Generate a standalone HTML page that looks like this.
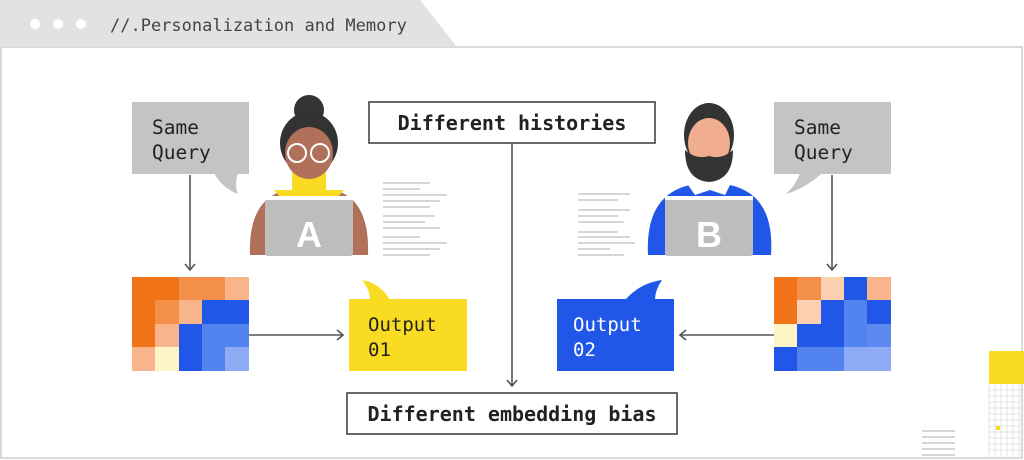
<!DOCTYPE html>
<html><head><style>
html,body{margin:0;padding:0;background:#fff;}
svg{display:block;}
text{font-family:"DejaVu Sans Mono","Liberation Mono",monospace;}
</style></head><body>
<svg width="1024" height="460" viewBox="0 0 1024 460" xmlns="http://www.w3.org/2000/svg">
<rect width="1024" height="460" fill="#fff"/>
<rect x="1" y="47" width="1021" height="411" fill="#fff" stroke="#d9d9d9" stroke-width="2"/>
<polygon points="0,0 420,0 457,47 0,47" fill="#e2e2e2"/>
<circle cx="35" cy="24" r="5" fill="#fff"/><circle cx="58" cy="24" r="5" fill="#fff"/><circle cx="81" cy="24" r="5" fill="#fff"/>
<text x="110" y="31" font-size="17" fill="#444">//.Personalization and Memory</text>

<!-- query A -->
<rect x="132" y="102" width="117" height="72" fill="#c4c4c4"/>
<path d="M214 173 L238 173 Q234 185 238 194 Q222 188 214 173Z" fill="#c4c4c4"/>
<text x="152" y="134" font-size="19.5" fill="#222">Same</text>
<text x="152" y="159" font-size="19.5" fill="#222">Query</text>
<!-- query B -->
<rect x="774" y="102" width="117" height="72" fill="#c4c4c4"/>
<path d="M800 173 L822 173 Q806 188 786 194 Q796 185 800 173Z" fill="#c4c4c4"/>
<text x="794" y="134" font-size="19.5" fill="#222">Same</text>
<text x="794" y="159" font-size="19.5" fill="#222">Query</text>

<g stroke="#555" stroke-width="1.6" fill="none">
<line x1="190" y1="175" x2="190" y2="269"/><polyline points="185,264 190,270 195,264"/>
<line x1="832" y1="175" x2="832" y2="269"/><polyline points="827,264 832,270 837,264"/>
<line x1="249" y1="335" x2="342" y2="335"/><polyline points="337,330 343,335 337,340"/>
<line x1="774" y1="335" x2="681" y2="335"/><polyline points="686,330 680,335 686,340"/>
<line x1="512" y1="143" x2="512" y2="385"/><polyline points="507,380 512,386 517,380"/>
</g>

<!-- matrix A -->
<g>
<rect x="132" y="277" width="24" height="24" fill="#f07318"/><rect x="155" y="277" width="24" height="24" fill="#f07318"/><rect x="179" y="277" width="24" height="24" fill="#f48f4a"/><rect x="202" y="277" width="24" height="24" fill="#f48f4a"/><rect x="225" y="277" width="24" height="24" fill="#f8b48a"/>
<rect x="132" y="300" width="24" height="24" fill="#f07318"/><rect x="155" y="300" width="24" height="24" fill="#f48f4a"/><rect x="179" y="300" width="24" height="24" fill="#f8b48a"/><rect x="202" y="300" width="24" height="24" fill="#2057e8"/><rect x="225" y="300" width="24" height="24" fill="#2057e8"/>
<rect x="132" y="324" width="24" height="24" fill="#f07318"/><rect x="155" y="324" width="24" height="24" fill="#f8b48a"/><rect x="179" y="324" width="24" height="24" fill="#2057e8"/><rect x="202" y="324" width="24" height="24" fill="#5283ef"/><rect x="225" y="324" width="24" height="24" fill="#5283ef"/>
<rect x="132" y="347" width="24" height="24" fill="#f8b48a"/><rect x="155" y="347" width="24" height="24" fill="#fdf5c8"/><rect x="179" y="347" width="24" height="24" fill="#2057e8"/><rect x="202" y="347" width="24" height="24" fill="#5283ef"/><rect x="225" y="347" width="24" height="24" fill="#8eacf5"/>
</g>
<!-- matrix B -->
<g>
<rect x="774" y="277" width="24" height="24" fill="#f07318"/><rect x="797" y="277" width="24" height="24" fill="#f48f4a"/><rect x="821" y="277" width="24" height="24" fill="#fbcfb0"/><rect x="844" y="277" width="24" height="24" fill="#2057e8"/><rect x="867" y="277" width="24" height="24" fill="#f8b48a"/>
<rect x="774" y="300" width="24" height="24" fill="#f07318"/><rect x="797" y="300" width="24" height="24" fill="#fbcfb0"/><rect x="821" y="300" width="24" height="24" fill="#2057e8"/><rect x="844" y="300" width="24" height="24" fill="#5283ef"/><rect x="867" y="300" width="24" height="24" fill="#2057e8"/>
<rect x="774" y="324" width="24" height="24" fill="#fdf5c8"/><rect x="797" y="324" width="24" height="24" fill="#2057e8"/><rect x="821" y="324" width="24" height="24" fill="#2057e8"/><rect x="844" y="324" width="24" height="24" fill="#5283ef"/><rect x="867" y="324" width="24" height="24" fill="#5c8af0"/>
<rect x="774" y="347" width="24" height="24" fill="#2057e8"/><rect x="797" y="347" width="24" height="24" fill="#5283ef"/><rect x="821" y="347" width="24" height="24" fill="#5283ef"/><rect x="844" y="347" width="24" height="24" fill="#8eacf5"/><rect x="867" y="347" width="24" height="24" fill="#8eacf5"/>
</g>

<!-- outputs -->
<path d="M362 280 Q380 283 390 300 L370 300 Q370 290 362 280Z" fill="#f9dc22"/>
<rect x="349" y="299" width="118" height="72" fill="#f9dc22"/>
<text x="368" y="331" font-size="19" fill="#222">Output</text>
<text x="368" y="356" font-size="19" fill="#222">01</text>
<path d="M662 280 Q640 283 625 300 L655 300 Q655 290 662 280Z" fill="#2057e8"/>
<rect x="557" y="299" width="117" height="72" fill="#2057e8"/>
<text x="573" y="331" font-size="19" fill="#fff">Output</text>
<text x="573" y="356" font-size="19" fill="#fff">02</text>

<!-- labels -->
<rect x="369" y="102" width="286" height="41" fill="#fff" stroke="#444" stroke-width="1.6"/>
<text x="512" y="130" font-size="20" font-weight="bold" fill="#222" text-anchor="middle">Different histories</text>
<rect x="347" y="393" width="330" height="41" fill="#fff" stroke="#444" stroke-width="1.6"/>
<text x="512" y="421" font-size="20" font-weight="bold" fill="#222" text-anchor="middle">Different embedding bias</text>

<!-- person A -->
<path d="M250 255 Q248 200 285 190 L335 190 Q370 200 368 255Z" fill="#b0705a"/>
<path d="M274 190 L344 190 L334 202 L284 202Z" fill="#f9dc22"/>
<rect x="292" y="168" width="34" height="28" fill="#f9dc22"/>
<circle cx="309" cy="110" r="15" fill="#333"/>
<ellipse cx="309" cy="143" rx="29" ry="31" fill="#333"/>
<ellipse cx="309" cy="153" rx="24" ry="26" fill="#b0705a"/>
<circle cx="297" cy="153" r="9" fill="none" stroke="#fff" stroke-width="2"/>
<circle cx="320" cy="153" r="9" fill="none" stroke="#fff" stroke-width="2"/>
<rect x="265" y="196" width="88" height="60" rx="3" fill="#bdbdbd"/>
<rect x="265" y="196" width="88" height="4" fill="#fff"/>
<text x="309" y="247" font-size="36" font-weight="bold" fill="#fff" text-anchor="middle" style="font-family:'Liberation Sans',sans-serif">A</text>
<!-- person B -->
<path d="M648 255 Q645 195 690 185 L730 185 Q775 195 771 255Z" fill="#2057e8"/>
<path d="M688 185 L730 185 L725 195 L710 190 L695 195Z" fill="#fff"/>
<ellipse cx="709" cy="135" rx="25" ry="32" fill="#333"/>
<ellipse cx="709" cy="143" rx="21" ry="25" fill="#f1ad90"/>
<path d="M685 150 Q685 180 709 182 Q733 180 733 150 Q722 160 709 156 Q696 160 685 150Z" fill="#333"/>
<rect x="665" y="196" width="88" height="60" rx="3" fill="#bdbdbd"/>
<rect x="665" y="196" width="88" height="4" fill="#fff"/>
<text x="709" y="247" font-size="36" font-weight="bold" fill="#fff" text-anchor="middle" style="font-family:'Liberation Sans',sans-serif">B</text>

<!-- text lines -->
<g stroke="#c8c8c8" stroke-width="1.6">
<line x1="383" y1="183" x2="430" y2="183"/><line x1="383" y1="189" x2="420" y2="189"/><line x1="383" y1="195" x2="447" y2="195"/><line x1="383" y1="201" x2="440" y2="201"/><line x1="383" y1="207" x2="430" y2="207"/>
<line x1="383" y1="216" x2="435" y2="216"/><line x1="383" y1="222" x2="425" y2="222"/><line x1="383" y1="228" x2="440" y2="228"/>
<line x1="383" y1="237" x2="420" y2="237"/><line x1="383" y1="243" x2="447" y2="243"/><line x1="383" y1="249" x2="440" y2="249"/><line x1="383" y1="255" x2="430" y2="255"/>
<line x1="578" y1="194" x2="630" y2="194"/><line x1="578" y1="200" x2="618" y2="200"/><line x1="578" y1="210" x2="630" y2="210"/><line x1="578" y1="216" x2="618" y2="216"/><line x1="578" y1="222" x2="624" y2="222"/>
<line x1="578" y1="232" x2="618" y2="232"/><line x1="578" y1="237" x2="630" y2="237"/><line x1="578" y1="243" x2="635" y2="243"/><line x1="578" y1="249" x2="610" y2="249"/><line x1="578" y1="255" x2="624" y2="255"/>
<line x1="922" y1="431" x2="955" y2="431"/><line x1="922" y1="437" x2="955" y2="437"/><line x1="922" y1="443" x2="955" y2="443"/><line x1="922" y1="449" x2="955" y2="449"/><line x1="922" y1="455" x2="955" y2="455"/>
</g>

<!-- bottom-right decoration -->
<rect x="989" y="351" width="35" height="33" fill="#f9dc22"/>
<g stroke="#e3e3e3" stroke-width="1">
<line x1="989" y1="384" x2="989" y2="458"/><line x1="995" y1="384" x2="995" y2="458"/><line x1="1001" y1="384" x2="1001" y2="458"/><line x1="1007" y1="384" x2="1007" y2="458"/><line x1="1013" y1="384" x2="1013" y2="458"/><line x1="1019" y1="384" x2="1019" y2="458"/>
<line x1="989" y1="390" x2="1024" y2="390"/><line x1="989" y1="396" x2="1024" y2="396"/><line x1="989" y1="402" x2="1024" y2="402"/><line x1="989" y1="408" x2="1024" y2="408"/><line x1="989" y1="414" x2="1024" y2="414"/><line x1="989" y1="420" x2="1024" y2="420"/><line x1="989" y1="426" x2="1024" y2="426"/><line x1="989" y1="432" x2="1024" y2="432"/><line x1="989" y1="438" x2="1024" y2="438"/><line x1="989" y1="444" x2="1024" y2="444"/><line x1="989" y1="450" x2="1024" y2="450"/>
</g>
<rect x="996" y="426" width="4" height="4" fill="#f9dc22"/>
</svg>
</body></html>
